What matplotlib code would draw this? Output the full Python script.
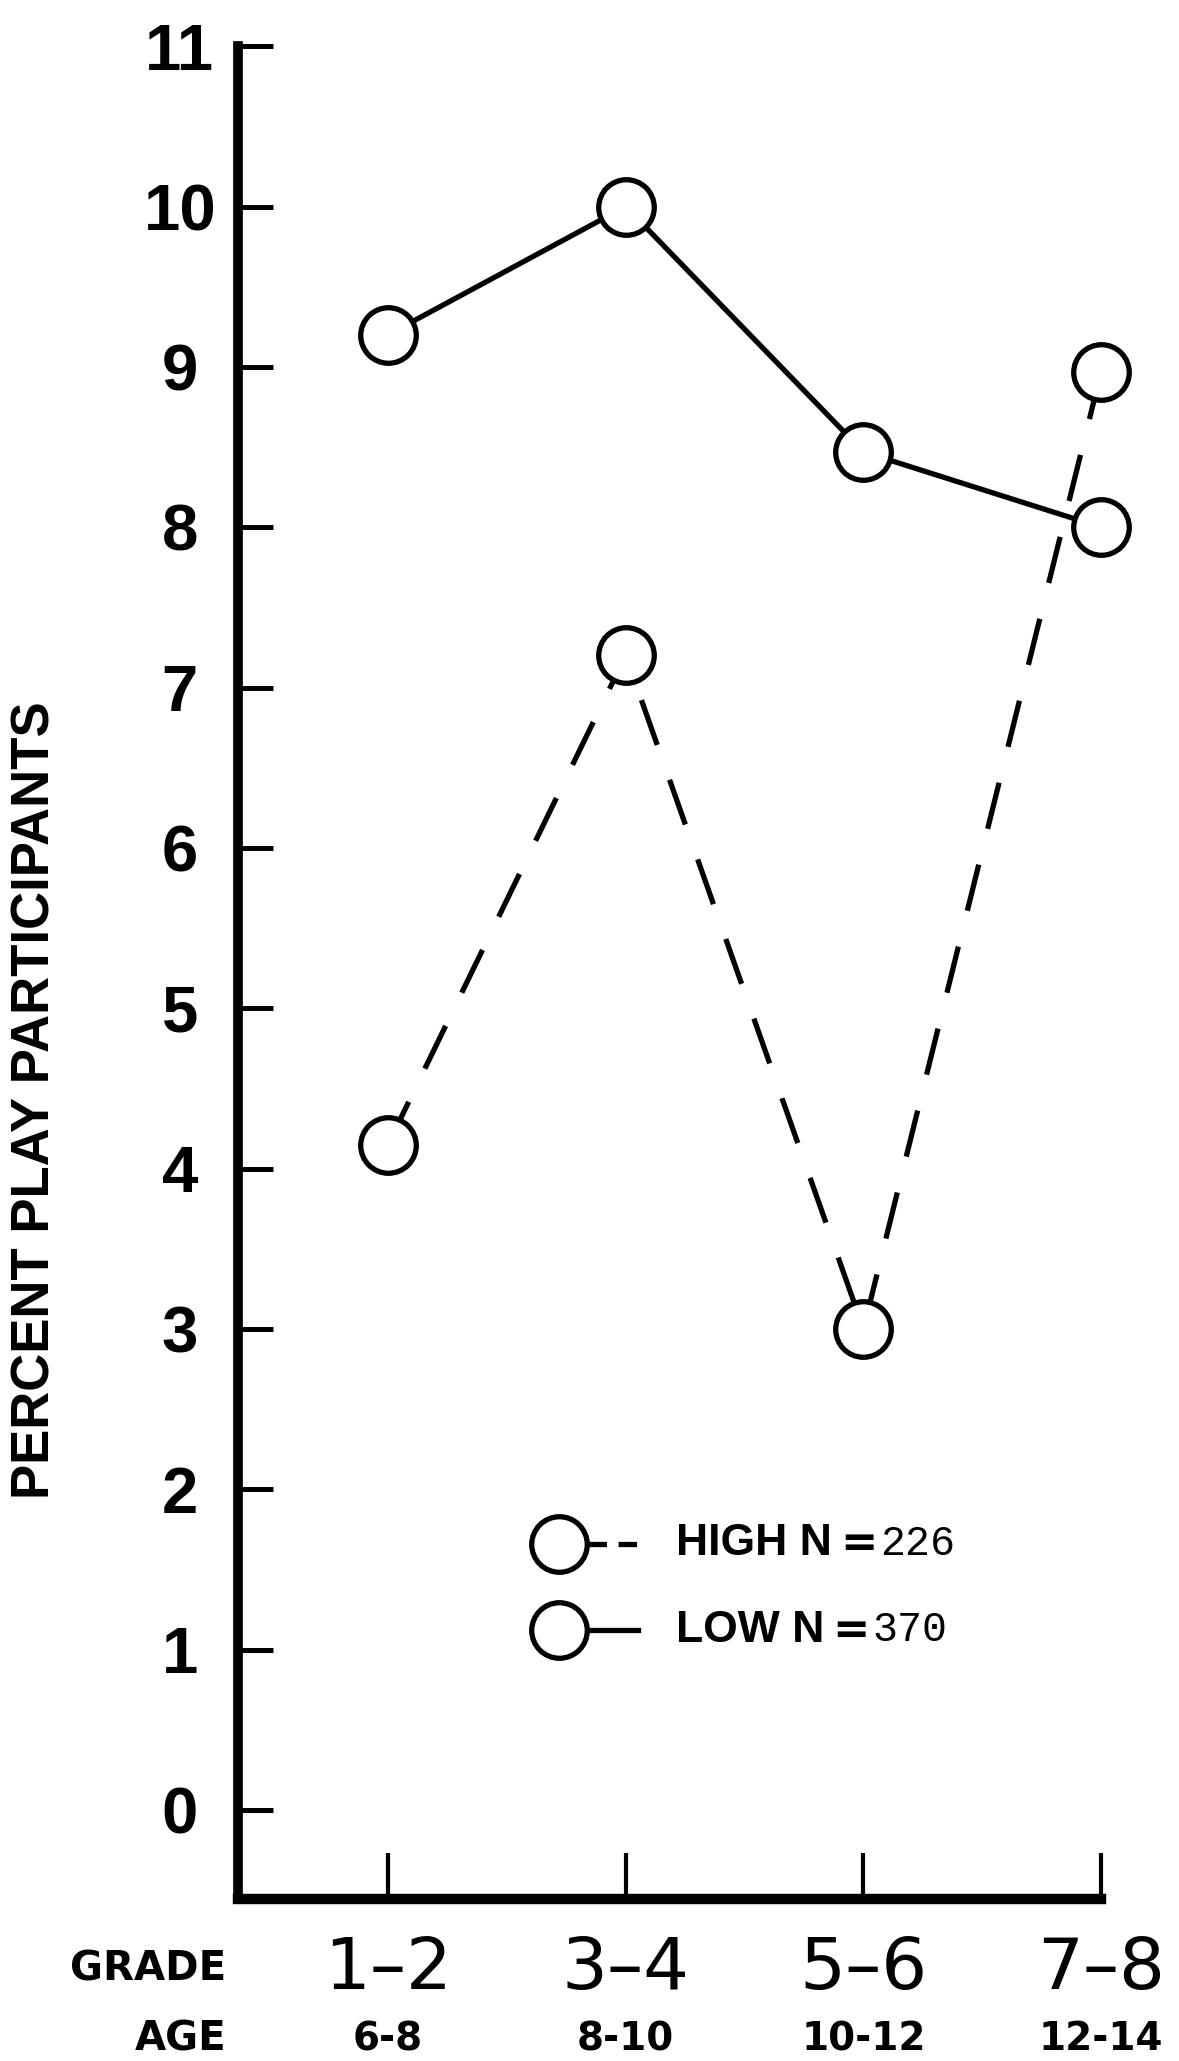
import matplotlib
matplotlib.use("Agg")
import matplotlib.pyplot as plt
from matplotlib.transforms import blended_transform_factory

# data
grades = ["1–2", "3–4", "5–6", "7–8"]
ages = ["6-8", "8-10", "10-12", "12-14"]
high = [4.15, 7.2, 3.0, 8.97]
low = [9.2, 10.0, 8.47, 8.0]
y_ticks = list(range(0, 12))
legend_names = ["HIGH N", "LOW N"]
legend_counts = ["226", "370"]

SANS = ["Liberation Sans", "DejaVu Sans"]
HEAVY = ["DejaVu Sans"]
MONO = ["Liberation Mono", "DejaVu Sans Mono"]

fig = plt.figure(figsize=(11.79, 20.61), dpi=100)
ax = fig.add_axes([0.202, 0.0786, 0.732, 0.899])

x = list(range(len(grades)))
line_kw = dict(color="black", lw=3.8, marker="o", markersize=40,
               markerfacecolor="white", markeredgecolor="black",
               markeredgewidth=3.8, clip_on=False, zorder=3)
ax.plot(x, high, ls=(0, (9, 7)), **line_kw)
ax.plot(x, low, ls="-", **line_kw)

ax.set_xlim(-0.63, 3.0)
ax.set_ylim(-0.555, 11)

for side in ("top", "right"):
    ax.spines[side].set_visible(False)
ax.spines["left"].set_linewidth(7)
ax.spines["bottom"].set_linewidth(7.5)

ax.set_yticks(y_ticks)
ax.set_yticklabels([str(v) for v in y_ticks], family=SANS,
                   fontweight="bold", fontsize=47, ha="center")
ax.tick_params(axis="y", direction="in", length=25, width=3.6, pad=42)
ax.set_xticks(x)
ax.set_xticklabels([])
ax.tick_params(axis="x", direction="in", length=33, width=3, pad=0)

ax.set_ylabel("PERCENT PLAY PARTICIPANTS", family=SANS, fontweight="bold",
              fontsize=38)
ax.yaxis.set_label_coords(-0.206, 0.431)

# category rows under the axis
tr = blended_transform_factory(ax.transData, fig.transFigure)
for xi, g, a in zip(x, grades, ages):
    ax.text(xi, 0.0445, g, transform=tr, ha="center", va="center",
            family=HEAVY, fontsize=52)
    ax.text(xi, 0.0105, a, transform=tr, ha="center", va="center",
            family=HEAVY, fontweight="bold", fontsize=28)
fig.text(0.192, 0.0445, "GRADE", ha="right", va="center", family=HEAVY,
         fontweight="bold", fontsize=29)
fig.text(0.192, 0.0105, "AGE", ha="right", va="center", family=HEAVY,
         fontweight="bold", fontsize=29)

# hand-drawn legend
leg_x0, leg_x1, leg_tx = 0.72, 1.05, 1.21
leg_rows = [1.66, 1.12]
leg_styles = [(0, (3.5, 2.2)), "-"]
for yy, st, name, count in zip(leg_rows, leg_styles, legend_names, legend_counts):
    ax.plot([leg_x0 + 0.12, leg_x1], [yy, yy], color="black", lw=3.8, ls=st)
    ax.plot([leg_x0], [yy], marker="o", markersize=40, markerfacecolor="white",
            markeredgecolor="black", markeredgewidth=3.8, ls="none", zorder=3)
    t = ax.text(leg_tx, yy, name, ha="left", va="center", family=SANS,
                fontweight="bold", fontsize=32)
    eq = ax.annotate("=", xy=(1, 0.5), xycoords=t, xytext=(6, 0),
                     textcoords="offset points", ha="left", va="center",
                     family=HEAVY, fontweight="bold", fontsize=32)
    ax.annotate(count, xy=(1, 0.5), xycoords=eq, xytext=(2, 0),
                textcoords="offset points", ha="left", va="center",
                family=MONO, fontsize=30)

fig.savefig("out.png", dpi=100, facecolor="white")
